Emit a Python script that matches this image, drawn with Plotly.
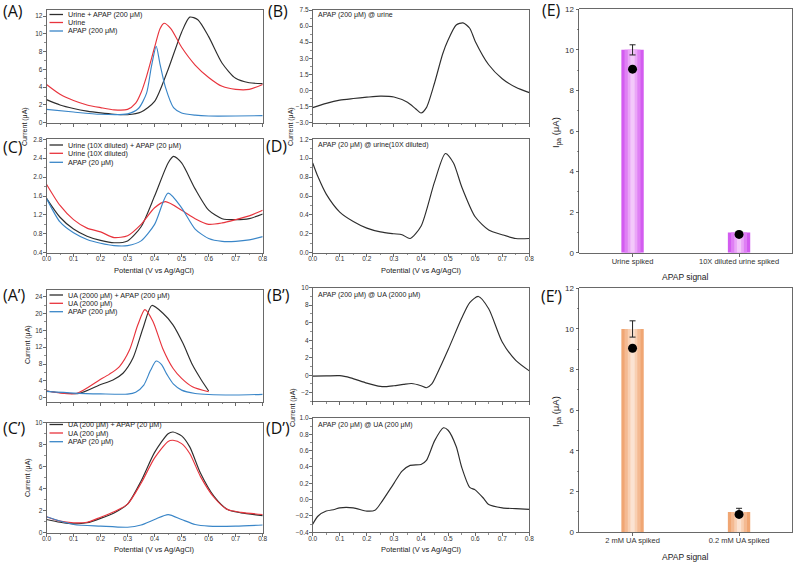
import plotly.graph_objects as go

W, H = 800, 566

# ---------------- data ----------------
# (A) urine, 200 uM APAP
A_black_x = [0, 0.05, 0.1, 0.15, 0.2, 0.25, 0.3, 0.35, 0.4, 0.45, 0.5, 0.53, 0.56, 0.6, 0.65, 0.7, 0.75, 0.8]
A_black_y = [2.6, 2.0, 1.6, 1.3, 1.1, 0.95, 0.9, 1.2, 2.4, 6.0, 10.2, 11.9, 11.6, 9.7, 6.7, 5.0, 4.5, 4.4]
A_red_x = [0, 0.05, 0.1, 0.15, 0.2, 0.25, 0.3, 0.33, 0.35, 0.37, 0.4, 0.42, 0.435, 0.46, 0.5, 0.55, 0.6, 0.65, 0.7, 0.75, 0.8]
A_red_y = [4.3, 3.2, 2.5, 2.0, 1.7, 1.45, 1.5, 2.2, 3.4, 5.2, 8.5, 10.6, 11.2, 10.6, 8.5, 6.5, 5.1, 4.1, 3.75, 3.75, 4.3]
A_blue_x = [0, 0.1, 0.2, 0.3, 0.34, 0.37, 0.388, 0.406, 0.42, 0.44, 0.47, 0.5, 0.55, 0.6, 0.7, 0.8]
A_blue_y = [1.5, 1.2, 0.95, 1.0, 1.6, 3.3, 6.3, 8.6, 6.6, 4.0, 1.7, 1.1, 0.85, 0.75, 0.75, 0.8]

# (B) APAP (200 uM) @ urine
B_x = [0, 0.05, 0.1, 0.15, 0.2, 0.25, 0.3, 0.35, 0.38, 0.4, 0.42, 0.45, 0.48, 0.5, 0.53, 0.555, 0.58, 0.6, 0.65, 0.7, 0.75, 0.8]
B_y = [-1.6, -1.2, -0.9, -0.75, -0.62, -0.52, -0.6, -1.1, -1.7, -2.1, -1.6, 0.7, 3.4, 4.7, 6.1, 6.3, 5.8, 4.6, 2.4, 1.1, 0.3, -0.2]

# (C) 10X diluted urine, 20 uM APAP
C_x = [0, 0.05, 0.1, 0.15, 0.2, 0.25, 0.3, 0.35, 0.4, 0.45, 0.47, 0.5, 0.55, 0.6, 0.65, 0.7, 0.75, 0.8]
C_black_y = [1.55, 1.15, 0.9, 0.75, 0.66, 0.61, 0.65, 0.95, 1.6, 2.3, 2.44, 2.3, 1.75, 1.3, 1.12, 1.1, 1.12, 1.22]
C_red_x = [0, 0.05, 0.1, 0.15, 0.2, 0.25, 0.3, 0.35, 0.4, 0.44, 0.5, 0.55, 0.6, 0.65, 0.7, 0.75, 0.8]
C_red_y = [1.85, 1.4, 1.1, 0.92, 0.84, 0.72, 0.76, 1.0, 1.35, 1.48, 1.3, 1.12, 1.0, 1.03, 1.1, 1.18, 1.3]
C_blue_x = [0, 0.05, 0.1, 0.15, 0.2, 0.25, 0.3, 0.35, 0.4, 0.45, 0.5, 0.55, 0.6, 0.65, 0.7, 0.75, 0.8]
C_blue_y = [1.55, 1.05, 0.82, 0.68, 0.6, 0.55, 0.55, 0.65, 1.0, 1.66, 1.35, 0.9, 0.7, 0.64, 0.64, 0.67, 0.74]

# (D) APAP (20 uM) @ urine(10X diluted)
D_x = [0, 0.02, 0.05, 0.1, 0.15, 0.2, 0.25, 0.3, 0.33, 0.36, 0.4, 0.45, 0.49, 0.52, 0.55, 0.6, 0.65, 0.7, 0.75, 0.8]
D_y = [0.95, 0.8, 0.62, 0.43, 0.33, 0.26, 0.22, 0.2, 0.19, 0.15, 0.28, 0.75, 1.05, 0.95, 0.7, 0.38, 0.24, 0.19, 0.15, 0.15]

# (A') UA 2000 uM, APAP 200 uM
Ap_black_x = [0, 0.12, 0.196, 0.246, 0.283, 0.32, 0.357, 0.39, 0.43, 0.468, 0.505, 0.54, 0.573, 0.6]
Ap_black_y = [1.6, 1.0, 3.0, 4.2, 5.8, 9.4, 16.5, 21.9, 20.1, 17.3, 12.9, 7.8, 4.2, 1.6]
Ap_red_x = [0, 0.11, 0.196, 0.233, 0.27, 0.307, 0.338, 0.364, 0.394, 0.43, 0.468, 0.5, 0.54, 0.6]
Ap_red_y = [1.6, 1.0, 4.2, 5.6, 7.4, 11.3, 17.3, 20.9, 18.1, 11.7, 7.0, 4.6, 2.6, 1.4]
Ap_blue_x = [0, 0.1, 0.2, 0.3, 0.33, 0.36, 0.385, 0.406, 0.425, 0.445, 0.47, 0.5, 0.55, 0.6, 0.7, 0.8]
Ap_blue_y = [1.5, 1.1, 0.9, 0.85, 1.3, 3.0, 6.5, 8.7, 7.9, 5.6, 3.2, 1.8, 1.0, 0.75, 0.65, 0.8]

# (B') APAP (200 uM) @ UA (2000 uM)
Bp_x = [0, 0.05, 0.1, 0.14, 0.2, 0.25, 0.27, 0.3, 0.335, 0.365, 0.4, 0.42, 0.44, 0.46, 0.5, 0.55, 0.58, 0.612, 0.65, 0.7, 0.75, 0.8]
Bp_y = [-0.1, -0.08, -0.05, -0.3, -0.9, -1.28, -1.3, -1.2, -1.05, -0.95, -1.2, -1.43, -1.0, 0.2, 2.9, 6.5, 8.3, 9.0, 7.6, 3.8, 1.7, 0.5]

# (C') UA 200 uM, APAP 20 uM
Cp_x = [0, 0.05, 0.1, 0.15, 0.2, 0.25, 0.3, 0.35, 0.4, 0.45, 0.468, 0.5, 0.53, 0.57, 0.62, 0.67, 0.72, 0.8]
Cp_black_y = [1.2, 0.95, 0.8, 0.9, 1.3, 1.8, 2.6, 4.7, 7.3, 9.0, 9.15, 8.8, 7.8, 5.4, 3.3, 2.1, 1.8, 1.55]
Cp_red_y = [1.45, 1.05, 0.9, 0.95, 1.4, 1.9, 2.6, 4.5, 6.8, 8.3, 8.4, 8.1, 7.2, 5.1, 3.2, 2.1, 1.85, 1.65]
Cp_blue_x = [0, 0.1, 0.2, 0.3, 0.35, 0.4, 0.45, 0.5, 0.55, 0.6, 0.7, 0.8]
Cp_blue_y = [1.45, 0.75, 0.6, 0.5, 0.7, 1.2, 1.65, 1.2, 0.75, 0.6, 0.6, 0.7]

# (D') APAP (20 uM) @ UA (200 uM)
Dp_x = [0, 0.02, 0.05, 0.08, 0.1, 0.15, 0.2, 0.23, 0.25, 0.3, 0.33, 0.36, 0.4, 0.42, 0.45, 0.483, 0.5, 0.53, 0.55, 0.58, 0.6, 0.63, 0.65, 0.7, 0.75, 0.8]
Dp_y = [-0.3, -0.2, -0.14, -0.12, -0.1, -0.1, -0.14, -0.13, -0.05, 0.2, 0.35, 0.42, 0.43, 0.48, 0.72, 0.88, 0.85, 0.65, 0.4, 0.15, 0.12, 0.02, -0.06, -0.1, -0.11, -0.12]

# (E) / (E') bar charts
E_cats = ["Urine spiked", "10X diluted urine spiked"]
E_bar = [10.0, 1.0]
E_err = [0.25, 0.05]
E_dot = [9.05, 0.9]
Ep_cats = ["2 mM UA spiked", "0.2 mM UA spiked"]
Ep_bar = [10.0, 1.0]
Ep_err = [0.4, 0.18]
Ep_dot = [9.05, 0.88]

# ---------------- styling helpers ----------------
BLACK = "#2e2e2e"
RED = "#e8343d"
BLUE = "#3a86c8"
AXC = "#444444"
TICKFONT = dict(family="Liberation Sans, Arial", size=6.5, color="#333")
TXT = "Liberation Sans, Arial"


def px_x(p):
    return p / W


def px_y(p):
    return 1 - p / H


def dom_x(a, b):
    return [px_x(a), px_x(b)]


def dom_y(top, bottom):
    return [px_y(bottom), px_y(top)]


LEFT = dom_x(46.5, 262.7)
MID = dom_x(312.7, 529.3)
RIGHT = dom_x(579.3, 792.3)

fig = go.Figure()
layout = dict(width=W, height=H, margin=dict(l=0, r=0, t=0, b=0, pad=0), autosize=False,
              paper_bgcolor="white", plot_bgcolor="white", showlegend=False,
              barmode="overlay")


def xaxis(idx, domain, labels):
    key = "xaxis" if idx == 1 else f"xaxis{idx}"
    layout[key] = dict(domain=domain, range=[0, 0.8], anchor=("y" if idx == 1 else f"y{idx}"),
                       tick0=0, dtick=0.1, tickformat=".1f", showticklabels=labels,
                       ticks="outside", ticklen=3, tickwidth=0.8, tickcolor=AXC,
                       ticklabelstandoff=-3, automargin=False,
                       minor=dict(ticks="outside", ticklen=1.5, dtick=0.05, tickcolor=AXC, tickwidth=0.6),
                       showline=True, linecolor=AXC, linewidth=0.8, mirror=True,
                       showgrid=False, zeroline=False, tickfont=TICKFONT)


def yaxis(idx, domain, rng, tick0, dtick, fmt):
    key = "yaxis" if idx == 1 else f"yaxis{idx}"
    layout[key] = dict(domain=domain, range=rng, anchor=("x" if idx == 1 else f"x{idx}"),
                       tick0=tick0, dtick=dtick, tickformat=fmt,
                       ticks="outside", ticklen=3, tickwidth=0.8, tickcolor=AXC,
                       ticklabelstandoff=-1, automargin=False,
                       minor=dict(ticks="outside", ticklen=1.5, dtick=dtick / 2, tickcolor=AXC, tickwidth=0.6),
                       showline=True, linecolor=AXC, linewidth=0.8, mirror=True,
                       showgrid=False, zeroline=False, tickfont=TICKFONT)


def line(idx, x, y, color):
    fig.add_trace(go.Scatter(x=x, y=y, mode="lines", line=dict(color=color, width=1.15, shape="spline", smoothing=0.7),
                             xaxis="x" if idx == 1 else f"x{idx}", yaxis="y" if idx == 1 else f"y{idx}",
                             hoverinfo="skip"))


# axes  A=1, B=2, C=3, D=4, E=5, A'=6, B'=7, C'=8, D'=9, E'=10
xaxis(1, LEFT, False); yaxis(1, dom_y(10, 122.7), [0, 12.7], 0, 2, "d")
xaxis(2, MID, False); yaxis(2, dom_y(10, 122.7), [-3, 7.5], -3, 1.5, ".1f")
xaxis(3, LEFT, True); yaxis(3, dom_y(139.3, 252.7), [0.4, 2.8], 0.4, 0.4, ".1f")
xaxis(4, MID, True); yaxis(4, dom_y(139.3, 252.7), [0, 1.2], 0, 0.2, ".1f")
xaxis(6, LEFT, False); yaxis(6, dom_y(290.3, 401.9), [-1, 25.5], 0, 4, "d")
xaxis(7, MID, False); yaxis(7, dom_y(287.7, 401.5), [-3, 10], -2, 2, "d")
xaxis(8, LEFT, True); yaxis(8, dom_y(422.7, 532.7), [0, 10], 0, 2, "d")
xaxis(9, MID, True); yaxis(9, dom_y(418, 532.3), [-0.4, 1.0], -0.4, 0.2, ".1f")

for idx, dom in ((5, dom_y(9.3, 252.7)), (10, dom_y(288.3, 532.3))):
    layout[f"xaxis{idx}"] = dict(domain=RIGHT, anchor=f"y{idx}", range=[-0.5, 1.5],
                                 ticks="outside", ticklen=3, tickcolor=AXC, tickwidth=0.8,
                                 ticklabelstandoff=-2, automargin=False,
                                 showline=True, linecolor=AXC, linewidth=0.8, mirror=True,
                                 showgrid=False, zeroline=False,
                                 tickfont=dict(family=TXT, size=7.5, color="#333"))
    layout[f"yaxis{idx}"] = dict(domain=dom, anchor=f"x{idx}", range=[0, 12], dtick=2,
                                 ticks="outside", ticklen=3, tickcolor=AXC, tickwidth=0.8,
                                 automargin=False,
                                 minor=dict(ticks="outside", ticklen=1.5, dtick=1, tickcolor=AXC, tickwidth=0.6),
                                 showline=True, linecolor=AXC, linewidth=0.8, mirror=True,
                                 showgrid=False, zeroline=False,
                                 tickfont=dict(family=TXT, size=8, color="#333"))

# curves
line(1, A_black_x, A_black_y, BLACK)
line(1, A_red_x, A_red_y, RED)
line(1, A_blue_x, A_blue_y, BLUE)
line(2, B_x, B_y, BLACK)
line(3, C_x, C_black_y, BLACK)
line(3, C_red_x, C_red_y, RED)
line(3, C_blue_x, C_blue_y, BLUE)
line(4, D_x, D_y, BLACK)
line(6, Ap_black_x, Ap_black_y, BLACK)
line(6, Ap_red_x, Ap_red_y, RED)
line(6, Ap_blue_x, Ap_blue_y, BLUE)
line(7, Bp_x, Bp_y, BLACK)
line(8, Cp_x, Cp_black_y, BLACK)
line(8, Cp_x, Cp_red_y, RED)
line(8, Cp_blue_x, Cp_blue_y, BLUE)
line(9, Dp_x, Dp_y, BLACK)

# bars with a faux gradient (layered bars)
def bars(idx, cats, vals, err, dots, shades):
    widths = [0.21, 0.15, 0.09, 0.04]
    for i, (w, c) in enumerate(zip(widths, shades)):
        kw = {}
        if i == len(widths) - 1:
            kw["error_y"] = dict(type="data", array=err, visible=True, color="#222", thickness=1, width=3)
        fig.add_trace(go.Bar(x=cats, y=vals, width=w, marker=dict(color=c, line=dict(width=0)),
                             xaxis=f"x{idx}", yaxis=f"y{idx}", hoverinfo="skip", **kw))
    fig.add_trace(go.Scatter(x=cats, y=dots, mode="markers", marker=dict(color="black", size=9),
                             xaxis=f"x{idx}", yaxis=f"y{idx}", hoverinfo="skip"))


bars(5, E_cats, E_bar, E_err, E_dot, ["#d35cf0", "#df80f4", "#eaa6f7", "#f3c8fa"])
bars(10, Ep_cats, Ep_bar, Ep_err, Ep_dot, ["#f0a673", "#f4ba92", "#f8d0b3", "#fbe3d2"])

# ---------------- annotations & legend keys ----------------
ann = []
shapes = []


def text(x, y, s, size=7, xanchor="left", yanchor="middle", angle=0, family=TXT, color="#222"):
    ann.append(dict(x=px_x(x), y=px_y(y), xref="paper", yref="paper", text=s, showarrow=False,
                    xanchor=xanchor, yanchor=yanchor, textangle=angle,
                    font=dict(family=family, size=size, color=color)))


def legend(rows, entries):
    for py, (label, col) in zip(rows, entries):
        shapes.append(dict(type="line", xref="paper", yref="paper", x0=px_x(49.5), x1=px_x(63),
                           y0=px_y(py), y1=px_y(py), line=dict(color=col, width=1.3)))
        text(66, py, label, size=7.2)


legend([14.5, 22.5, 31], [("Urine + APAP (200 μM)", BLACK), ("Urine", RED), ("APAP (200 μM)", BLUE)])
legend([145, 153.3, 162.3], [("Urine (10X diluted) + APAP (20 μM)", BLACK), ("Urine (10X diluted)", RED), ("APAP (20 μM)", BLUE)])
legend([295, 303.3, 311.7], [("UA (2000 μM) + APAP (200 μM)", BLACK), ("UA (2000 μM)", RED), ("APAP (200 μM)", BLUE)])
legend([424.5, 433, 441.7], [("UA (200 μM) + APAP (20 μM)", BLACK), ("UA (200 μM)", RED), ("APAP (20 μM)", BLUE)])

text(315.5, 15, "APAP (200 μM) @ urine", size=7)
text(315.5, 145, "APAP (20 μM) @ urine(10X diluted)", size=7)
text(315.5, 295, "APAP (200 μM) @ UA (2000 μM)", size=7)
text(315.5, 424.5, "APAP (20 μM) @ UA (200 μM)", size=7)

# axis titles
for cx in (154.6, 421):
    text(cx, 270, "Potential (V vs Ag/AgCl)", size=7.5, xanchor="center")
    text(cx, 549, "Potential (V vs Ag/AgCl)", size=7.5, xanchor="center")
text(25, 127, "Current (μA)", size=7, xanchor="center", angle=-90)
text(291, 127, "Current (μA)", size=7, xanchor="center", angle=-90)
text(293, 408, "Current (μA)", size=7, xanchor="center", angle=-90)
text(28, 345, "Current (μA)", size=7, xanchor="center", angle=-90)
text(28, 478, "Current (μA)", size=7, xanchor="center", angle=-90)
text(556, 133, "I<sub>pa</sub> (μA)", size=9.5, xanchor="center", angle=-90)
text(556, 412, "I<sub>pa</sub> (μA)", size=9.5, xanchor="center", angle=-90)
text(685.8, 277, "APAP signal", size=8.5, xanchor="center")
text(685.8, 556.5, "APAP signal", size=8.5, xanchor="center")

# panel letters
LBL = "Open Sans, Liberation Sans"
for x, y, s in [(13, 11, "(A)"), (278, 11, "(B)"), (551, 10, "(E)"),
                (13, 147, "(C)"), (276, 146, "(D)"),
                (14, 295, "(A’)"), (278, 295, "(B’)"), (551, 296, "(E’)"),
                (14, 428, "(C’)"), (278, 428, "(D’)")]:
    text(x, y, s, size=16, xanchor="center", family=LBL, color="#111")

layout["annotations"] = ann
layout["shapes"] = shapes
fig.update_layout(**layout)
# remove the browser's default page margin so the figure sits at the window origin
fig.write_html("out.html", config={"displayModeBar": False, "staticPlot": True},
               post_script="document.body.style.margin='0';document.body.style.overflow='hidden';")
